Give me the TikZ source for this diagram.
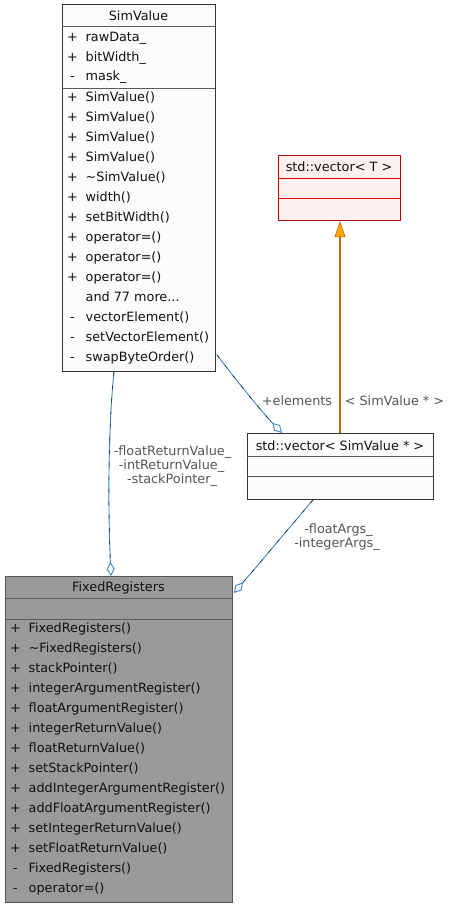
\documentclass[tikz,border=0pt]{standalone}
\usepackage{fontspec}
\setmainfont{DejaVu Sans}
\usetikzlibrary{arrows.meta,calc}
\definecolor{docfill}{HTML}{FCFDFB}
\definecolor{docborder}{HTML}{333333}
\definecolor{sepgray}{HTML}{5A5A5A}
\definecolor{curfill}{HTML}{9B999B}
\definecolor{curborder}{HTML}{555555}
\definecolor{undfill}{HTML}{FDF0F0}
\definecolor{undborder}{HTML}{B80000}
\definecolor{undsep}{HTML}{FF0000}
\definecolor{eblue}{HTML}{3D85C6}
\definecolor{edark}{HTML}{1E1E1E}
\definecolor{tline}{HTML}{B07010}
\definecolor{tfill}{HTML}{FFA500}
\definecolor{txt}{HTML}{111111}
\definecolor{lbl}{HTML}{555555}
\newcommand\dfont{\fontsize{12.8}{15}\selectfont}
\newcommand\moretxt{and 77 more...}
\begin{document}
\begin{tikzpicture}[x=1pt,y=-1pt,
  every node/.style={font=\dfont},
  cls/.style={anchor=north west, inner sep=0pt, line width=0.9pt},
  sepline/.style={draw=sepgray, line width=0.8pt},
  ttl/.style={anchor=base, inner sep=0pt, text=txt},
  sgn/.style={anchor=base, inner sep=0pt, text=txt},
  mem/.style={anchor=base west, inner sep=0pt, text=txt},
  elbl/.style={anchor=base, inner sep=0pt, text=lbl},
  assoc/.style={draw=eblue, line width=0.9pt, -{Diamond[open, length=14pt, width=8pt, line width=0.9pt]}},
  dsh/.style={draw=edark, line width=0.5pt, dash pattern=on 4pt off 9pt, shorten >=14pt},
  tmpl/.style={color=tline, line width=1.6pt, -{Triangle[length=16pt, width=11pt, fill=tfill, line width=0.6pt]}}
]
\useasboundingbox (0,0) rectangle (452,907);
\fill[white] (0,0) rectangle (452,907);

% ---------- SimValue ----------
\node[cls, fill=docfill, draw=docborder, minimum width=153pt, minimum height=367pt] (sv) at (62,4) {};
\draw[sepline] (62,26) -- (215,26);
\draw[sepline] (62,88) -- (215,88);
\node[ttl] (svt) at (138.5,20.7) {SimValue};
\foreach \s/\t [count=\i] in {+/rawData\_, +/bitWidth\_, -/mask\_}{
  \node[sgn] (sva\i s) at (72.5,{41.5+19.65*(\i-1)}) {\s};
  \node[mem] (sva\i) at (85.5,{41.5+19.65*(\i-1)}) {\t};
}
\foreach \s/\t [count=\i] in {+/SimValue(), +/SimValue(), +/SimValue(), +/SimValue(),
  +/\textasciitilde SimValue(), +/width(), +/setBitWidth(), +/operator=(), +/operator=(),
  +/operator=(), /\moretxt, -/vectorElement(), -/setVectorElement(), -/swapByteOrder()}{
  \node[sgn] (svm\i s) at (72.5,{81.5+20*\i}) {\s};
  \node[mem] (svm\i) at (85.5,{81.5+20*\i}) {\t};
}

% ---------- std::vector< T > ----------
\node[cls, fill=undfill, draw=undborder, line width=1.1pt, minimum width=122pt, minimum height=65pt] (vt) at (278,155) {};
\draw[draw=undsep, line width=0.9pt] (278.5,178.7) -- (399.5,178.7);
\draw[draw=undsep, line width=0.9pt] (278.5,198.7) -- (399.5,198.7);
\node[ttl] (vtt) at (339,171.7) {std::vector< T >};

% ---------- std::vector< SimValue * > ----------
\node[cls, fill=docfill, draw=docborder, minimum width=186pt, minimum height=66pt] (vs) at (247,433) {};
\draw[sepline] (247,456.7) -- (433,456.7);
\draw[sepline] (247,476.7) -- (433,476.7);
\node[ttl] (vst) at (340,450) {std::vector< SimValue * >};

% ---------- FixedRegisters ----------
\node[cls, fill=curfill, draw=curborder, minimum width=227pt, minimum height=326pt] (fr) at (5,576) {};
\draw[sepline] (5,598) -- (232,598);
\draw[sepline] (5,619) -- (232,619);
\node[ttl] (frt) at (118.5,591.7) {FixedRegisters};
\foreach \s/\t [count=\i] in {+/FixedRegisters(), +/\textasciitilde FixedRegisters(), +/stackPointer(),
  +/integerArgumentRegister(), +/floatArgumentRegister(), +/integerReturnValue(),
  +/floatReturnValue(), +/setStackPointer(), +/addIntegerArgumentRegister(),
  +/addFloatArgumentRegister(), +/setIntegerReturnValue(), +/setFloatReturnValue(),
  -/FixedRegisters(), -/operator=()}{
  \node[sgn] (frm\i s) at (15.5,{612.3+20*\i}) {\s};
  \node[mem] (frm\i) at (28.5,{612.3+20*\i}) {\t};
}

% ---------- connectors ----------
% template instantiation
\coordinate (vtin) at ($(vs.north west)+(93,0)$);
\draw[tmpl] (vtin) -- (vtin |- vt.south);
\node[elbl] (lt) at (394.5,405) {< SimValue * >};

% +elements
\draw[assoc] ($(sv.south east)+(1,-17)$) .. controls (240,385) and (262,412) .. ($(vs.north west)+(35,0)$);
\draw[dsh] ($(sv.south east)+(1,-17)$) .. controls (240,385) and (262,412) .. ($(vs.north west)+(35,0)$);
\node[elbl] (le) at (297,405) {+elements};

% floatReturnValue_ etc.
\draw[assoc] ($(sv.south west)+(52,0)$) .. controls (108,430) and (108,510) .. ($(fr.north west)+(106,0)$);
\draw[dsh] ($(sv.south west)+(52,0)$) .. controls (108,430) and (108,510) .. ($(fr.north west)+(106,0)$);
\node[elbl] (lf1) at (172.5,455) {-floatReturnValue\_};
\node[elbl] (lf2) at (171.5,469.3) {-intReturnValue\_};
\node[elbl] (lf3) at (172,483.3) {-stackPointer\_};

% floatArgs_ / integerArgs_
\draw[assoc] ($(vs.south west)+(66,0)$) .. controls (290,527) and (258,565) .. ($(fr.north east)+(1,17)$);
\draw[dsh] ($(vs.south west)+(66,0)$) .. controls (290,527) and (258,565) .. ($(fr.north east)+(1,17)$);
\node[elbl] (la1) at (338.5,533) {-floatArgs\_};
\node[elbl] (la2) at (337,547) {-integerArgs\_};
\end{tikzpicture}
\end{document}
